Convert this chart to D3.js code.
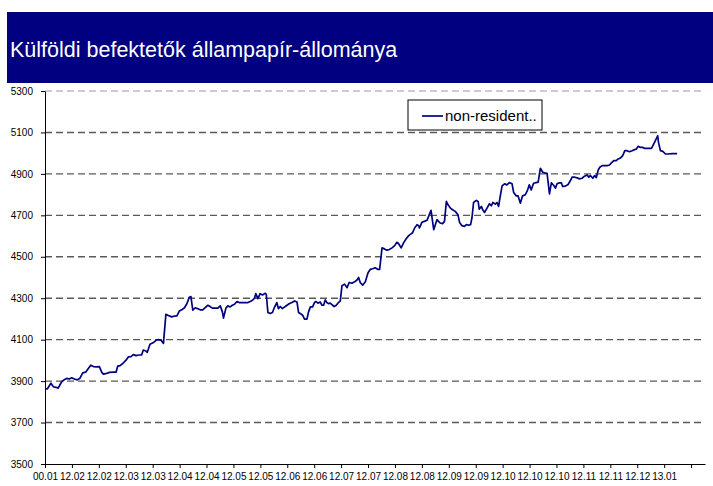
<!DOCTYPE html>
<html>
<head>
<meta charset="utf-8">
<script src="https://cdn.jsdelivr.net/npm/d3@7"></script>
<style>
  body { margin: 0; background: #fff; }
  svg { display: block; font-family: "Liberation Sans", Arial, sans-serif; }
</style>
</head>
<body>
<script>
const title = 'Külföldi befektetők állampapír-állománya';
const seriesName = 'non-resident..';

// x labels, one per tick
const tickLabels = ['00.01', '12.02', '12.02', '12.03', '12.03', '12.04', '12.04', '12.05',
  '12.05', '12.06', '12.06', '12.07', '12.07', '12.08', '12.08', '12.09', '12.09', '12.10',
  '12.10', '12.10', '12.11', '12.11', '12.12', '13.01'];

const yTicks = [3500, 3700, 3900, 4100, 4300, 4500, 4700, 4900, 5100, 5300];

// position along the axis (in tick intervals) and the stock value (bn HUF)
const pos = [
  0.00, 0.09, 0.22, 0.31, 0.41, 0.49, 0.62, 0.71, 0.81, 0.90, 0.99, 1.09, 1.20, 1.30, 1.40, 1.51,
  1.61, 1.70, 1.80, 1.92, 2.02, 2.11, 2.17, 2.29, 2.39, 2.54, 2.64, 2.70, 2.79, 2.89, 3.01, 3.10,
  3.19, 3.28, 3.38, 3.48, 3.59, 3.65, 3.75, 3.80, 3.90, 4.03, 4.13, 4.21, 4.31, 4.40, 4.49, 4.58,
  4.71, 4.81, 4.90, 4.99, 5.08, 5.18, 5.27, 5.36, 5.42, 5.49, 5.58, 5.66, 5.76, 5.86,
  5.95, 6.05, 6.13, 6.22, 6.32, 6.42, 6.51, 6.59, 6.63, 6.72, 6.79, 6.88, 6.96, 7.04, 7.13, 7.21,
  7.31, 7.43, 7.54, 7.62, 7.71, 7.78, 7.83, 7.91, 7.99, 8.08, 8.18, 8.22, 8.28, 8.36, 8.45, 8.52,
  8.61, 8.67, 8.74, 8.82, 8.90, 8.99, 9.07, 9.17, 9.27, 9.36, 9.42, 9.48, 9.57, 9.64, 9.73, 9.79,
  9.86, 9.94, 10.01, 10.06, 10.14, 10.22, 10.29, 10.35, 10.41, 10.47, 10.53, 10.59, 10.66, 10.74,
  10.82, 10.90, 10.97, 11.03, 11.13, 11.22, 11.30, 11.40, 11.50, 11.59, 11.65, 11.71, 11.80, 11.90,
  12.00, 12.08, 12.17, 12.27, 12.37, 12.43, 12.52, 12.61, 12.70, 12.79, 12.89, 12.99, 13.07, 13.13,
  13.23, 13.32, 13.41, 13.51, 13.61, 13.65, 13.73, 13.82, 13.88, 13.91, 14.00, 14.09, 14.19, 14.25,
  14.34, 14.38, 14.44, 14.50, 14.56, 14.62, 14.68, 14.77, 14.84, 14.91, 14.97, 15.06, 15.14, 15.24,
  15.34, 15.40, 15.49, 15.58, 15.65, 15.74, 15.81, 15.86, 15.92, 16.02, 16.09, 16.13, 16.21, 16.26,
  16.33, 16.42, 16.51, 16.58, 16.64, 16.73, 16.79, 16.85, 16.91, 16.98, 17.07, 17.16, 17.25, 17.35,
  17.41, 17.50, 17.57, 17.66, 17.74, 17.84, 17.93, 17.99, 18.06, 18.15,
  18.24, 18.32, 18.40, 18.49, 18.56, 18.65, 18.74, 18.81, 18.90, 18.96, 19.02, 19.11, 19.18, 19.23,
  19.33, 19.43, 19.52, 19.58, 19.68, 19.77, 19.85, 19.95, 20.04, 20.14, 20.20, 20.26, 20.35, 20.42,
  20.48, 20.55, 20.61, 20.70, 20.78, 20.88, 20.97, 21.04, 21.13, 21.22, 21.29, 21.38, 21.46, 21.54,
  21.62, 21.71, 21.81, 21.90, 21.97, 22.03, 22.12, 22.20, 22.28, 22.37, 22.45, 22.53, 22.61, 22.70,
  22.76, 22.79, 22.86, 22.95, 23.05, 23.14, 23.30, 23.48
];

const stock = [
  3863, 3863, 3890, 3873, 3870, 3866, 3897, 3906, 3913, 3910, 3916, 3910, 3906, 3914, 3940, 3943,
  3961, 3977, 3970, 3969, 3970, 3942, 3934, 3937, 3942, 3943, 3943, 3972, 3975, 3985, 4001, 4017,
  4018, 4028, 4023, 4026, 4026, 4050, 4045, 4039, 4078, 4086, 4098, 4100, 4097, 4082, 4222, 4217,
  4210, 4214, 4215, 4238, 4244, 4254, 4273, 4305, 4308, 4242, 4254, 4250, 4244, 4244,
  4255, 4266, 4260, 4252, 4252, 4252, 4263, 4234, 4204, 4252, 4263, 4258, 4266, 4271, 4284, 4279,
  4279, 4279, 4279, 4284, 4290, 4300, 4322, 4298, 4322, 4316, 4324, 4319, 4231, 4226, 4231, 4255,
  4279, 4250, 4260, 4250, 4258, 4266, 4273, 4279, 4287, 4282, 4231, 4226, 4218, 4199, 4199, 4234,
  4258, 4258, 4279, 4284, 4276, 4282, 4266, 4266, 4292, 4279, 4274, 4276, 4269, 4260,
  4266, 4279, 4287, 4360, 4368, 4351, 4376, 4372, 4379, 4388, 4400, 4376, 4363, 4380,
  4423, 4439, 4442, 4447, 4439, 4439, 4543, 4538, 4532, 4535, 4543, 4554, 4570, 4564,
  4543, 4567, 4586, 4602, 4612, 4615, 4639, 4655, 4650, 4639, 4666, 4671, 4676, 4695,
  4724, 4687, 4631, 4655, 4679, 4671, 4663, 4660, 4671, 4767, 4751, 4735, 4727, 4719,
  4703, 4666, 4650, 4647, 4655, 4652, 4655, 4687, 4762, 4772, 4767, 4730, 4743, 4727,
  4714, 4735, 4756, 4746, 4762, 4754, 4762, 4743, 4791, 4842, 4852, 4847, 4858, 4852,
  4810, 4794, 4794, 4759, 4794, 4799, 4823, 4847, 4823, 4855,
  4858, 4860, 4927, 4908, 4905, 4903, 4804, 4857, 4844, 4831, 4852, 4857, 4857, 4839,
  4841, 4849, 4868, 4884, 4884, 4881, 4876, 4879, 4889, 4895, 4884, 4892, 4879, 4892,
  4882, 4919, 4932, 4940, 4940, 4940, 4943, 4953, 4964, 4964, 4972, 4977, 4988, 5012,
  5012, 5007, 5012, 5017, 5020, 5033, 5028, 5028, 5023, 5023, 5023, 5023, 5044, 5068,
  5084, 5052, 5012, 5009, 4996, 4996, 4998, 4998
];

const W = 713, H = 486;
const layout = { left: 45, right: 705, top: 91, bottom: 464 };

const svg = d3.select('body').append('svg')
  .attr('width', W)
  .attr('height', H);

svg.append('rect').attr('width', W).attr('height', H).attr('fill', '#fff');

// title banner
svg.append('rect')
  .attr('x', 7).attr('y', 12)
  .attr('width', W - 7).attr('height', 71)
  .attr('fill', '#000080');

svg.append('text')
  .attr('x', 10).attr('y', 57)
  .attr('fill', '#fff')
  .style('font-size', '21.5px')
  .text(title);

const x = d3.scaleLinear()
  .domain([0, (layout.right - layout.left) / 26.92])
  .range([layout.left, layout.right]);

const y = d3.scaleLinear()
  .domain([3500, 5300])
  .range([layout.bottom, layout.top]);

// dashed gridlines
svg.append('g')
  .selectAll('line')
  .data(yTicks.slice(1))
  .enter().append('line')
  .attr('x1', layout.left).attr('x2', layout.right)
  .attr('y1', d => y(d)).attr('y2', d => y(d))
  .attr('stroke', d => d === 5300 ? '#9a9a9a' : '#5a5a5a')
  .attr('stroke-width', d => d === 5300 ? 1 : 1.4)
  .attr('stroke-dasharray', '7,4');

// y axis
const yAxis = svg.append('g')
  .attr('transform', `translate(${layout.left},0)`)
  .call(d3.axisLeft(y).tickValues(yTicks).tickFormat(d3.format('d'))
    .tickSize(4).tickSizeOuter(0).tickPadding(8));

// x axis
const xAxis = svg.append('g')
  .attr('transform', `translate(0,${layout.bottom})`)
  .call(d3.axisBottom(x)
    .tickValues(d3.range(0, tickLabels.length + 1))
    .tickFormat(i => tickLabels[i] || '')
    .tickSize(4).tickSizeOuter(0).tickPadding(5));

[yAxis, xAxis].forEach(g => {
  g.selectAll('text').style('font-size', '10px').attr('fill', '#000')
    .style('font-family', '"Liberation Sans", Arial, sans-serif');
  g.selectAll('line').attr('stroke', '#000');
  g.select('.domain').attr('stroke', '#000');
});

// the series
const points = pos.map((p, i) => ({ p: p, v: stock[i] }));

svg.append('path')
  .datum(points)
  .attr('fill', 'none')
  .attr('stroke', '#000080')
  .attr('stroke-width', 1.7)
  .attr('stroke-linejoin', 'round')
  .attr('d', d3.line().x(d => x(d.p)).y(d => y(d.v)));

// legend
const legend = svg.append('g').attr('transform', 'translate(408,100)');
legend.append('rect')
  .attr('width', 134).attr('height', 30)
  .attr('fill', '#fff').attr('stroke', '#000');
legend.append('line')
  .attr('x1', 14).attr('x2', 35).attr('y1', 16).attr('y2', 16)
  .attr('stroke', '#000080').attr('stroke-width', 1.7);
legend.append('text')
  .attr('x', 37).attr('y', 21)
  .style('font-size', '15px')
  .text(seriesName);
</script>
</body>
</html>
